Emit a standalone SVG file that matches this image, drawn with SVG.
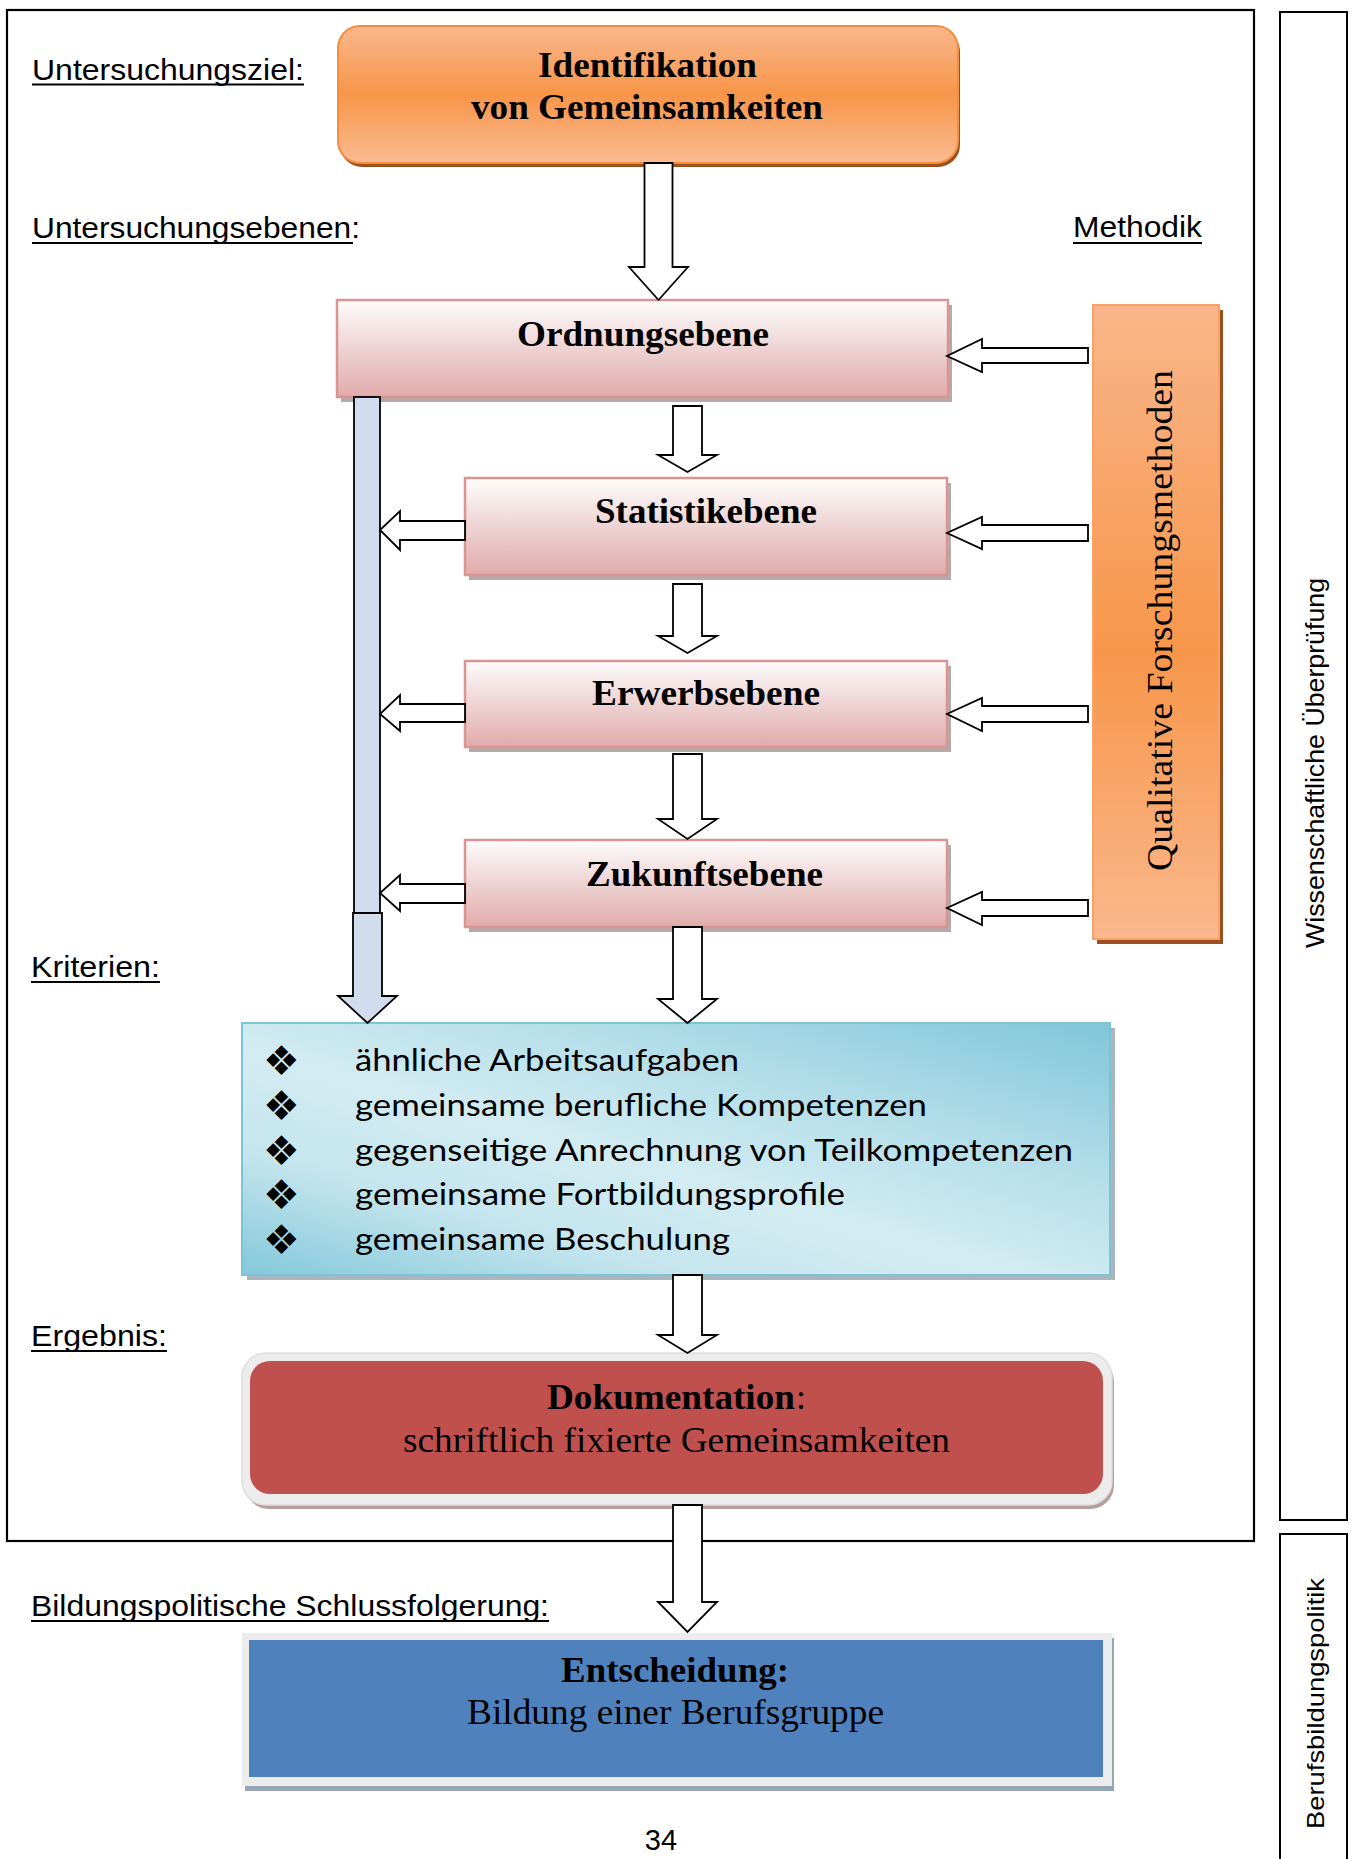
<svg xmlns="http://www.w3.org/2000/svg" width="1355" height="1859" viewBox="0 0 1355 1859">
<defs>
<linearGradient id="gOrange" x1="0" y1="0" x2="0" y2="1">
<stop offset="0" stop-color="#fab78c"/><stop offset="0.5" stop-color="#f79549"/><stop offset="1" stop-color="#fbbb92"/>
</linearGradient>
<linearGradient id="gQual" x1="0" y1="0" x2="0" y2="1">
<stop offset="0" stop-color="#f9b68a"/><stop offset="0.55" stop-color="#f7964a"/><stop offset="1" stop-color="#fab88d"/>
</linearGradient>
<linearGradient id="gPink" x1="0" y1="0" x2="0" y2="1">
<stop offset="0" stop-color="#fefcfc"/><stop offset="0.5" stop-color="#eed3d3"/><stop offset="1" stop-color="#e1abab"/>
</linearGradient>
<linearGradient id="gTeal" x1="1" y1="0" x2="0" y2="1">
<stop offset="0" stop-color="#80c6d9"/><stop offset="0.33" stop-color="#b6dfea"/><stop offset="0.55" stop-color="#d3ecf2"/><stop offset="0.75" stop-color="#c5e5ee"/><stop offset="1" stop-color="#83c8da"/>
</linearGradient>
<style>
.lbl{font-family:"Liberation Sans",Arial,sans-serif;font-size:29px;fill:#000}
.side{font-family:"Liberation Sans",Arial,sans-serif;fill:#000}
.sb{font-family:"Liberation Serif","Times New Roman",serif;font-weight:bold;font-size:35px;fill:#000}
.sr{font-family:"Liberation Serif","Times New Roman",serif;font-size:36px;fill:#000}
.crit{font-family:Lato,"Open Sans",sans-serif;font-size:31px;fill:#000}
.bul{font-family:"DejaVu Sans",sans-serif;font-size:41px;fill:#000}
.ul{stroke:#000;stroke-width:2.2}
.pink{fill:url(#gPink);stroke:#d99594;stroke-width:2.5}
.shadow{fill:#b6a9a9}
.arr{fill:#fff;stroke:#000;stroke-width:1.8;stroke-linejoin:miter}
.blue{fill:#d1ddec;stroke:#000;stroke-width:1.8}
</style>
</defs>
<rect width="1355" height="1859" fill="#fff"/>

<g id="frame">
<rect x="7" y="10" width="1247" height="1531" fill="none" stroke="#000" stroke-width="2.2"/>
</g>

<g id="sidebar-wissenschaft">
<rect x="1280" y="12" width="67" height="1508" fill="none" stroke="#000" stroke-width="2"/>
<text class="side" font-size="25" transform="translate(1324,763) rotate(-90)" x="-185" y="0" textLength="370" lengthAdjust="spacingAndGlyphs">Wissenschaftliche Überprüfung</text>
</g>
<g id="sidebar-politik">
<rect x="1280" y="1534" width="67" height="340" fill="none" stroke="#000" stroke-width="2"/>
<text class="side" font-size="24" transform="translate(1324,1704) rotate(-90)" x="-125" y="0" textLength="251" lengthAdjust="spacingAndGlyphs">Berufsbildungspolitik</text>
</g>

<g id="labels">
<text class="lbl" x="32" y="80" textLength="272" lengthAdjust="spacingAndGlyphs">Untersuchungsziel:</text>
<line class="ul" x1="32" y1="84.5" x2="304" y2="84.5"/>
<text class="lbl" x="32" y="238" textLength="328" lengthAdjust="spacingAndGlyphs">Untersuchungsebenen:</text>
<line class="ul" x1="32" y1="243" x2="353" y2="243"/>
<text class="lbl" x="1073" y="237" textLength="129" lengthAdjust="spacingAndGlyphs">Methodik</text>
<line class="ul" x1="1073" y1="243" x2="1202" y2="243"/>
<text class="lbl" x="31" y="977" textLength="129" lengthAdjust="spacingAndGlyphs">Kriterien:</text>
<line class="ul" x1="31" y1="982" x2="160" y2="982"/>
<text class="lbl" x="31" y="1346" textLength="136" lengthAdjust="spacingAndGlyphs">Ergebnis:</text>
<line class="ul" x1="31" y1="1351" x2="167" y2="1351"/>
<text class="lbl" x="31" y="1616" textLength="518" lengthAdjust="spacingAndGlyphs">Bildungspolitische Schlussfolgerung:</text>
<line class="ul" x1="31" y1="1621" x2="549" y2="1621"/>
<text class="lbl" x="661" y="1850" text-anchor="middle" font-size="29">34</text>
</g>

<g id="node-ziel">
<rect x="340" y="30" width="620" height="137" rx="22" fill="#9c4f1f"/>
<rect x="338" y="26" width="620" height="137" rx="22" fill="url(#gOrange)" stroke="#f58d3f" stroke-width="2"/>
<text class="sb" x="538" y="77" textLength="219" lengthAdjust="spacingAndGlyphs">Identifikation</text>
<text class="sb" x="471" y="119" textLength="352" lengthAdjust="spacingAndGlyphs">von Gemeinsamkeiten</text>
</g>

<g id="node-ordnung">
<rect class="shadow" x="341" y="305" width="611" height="97"/>
<rect class="pink" x="337" y="300" width="611" height="97"/>
<text class="sb" x="517" y="346" textLength="252" lengthAdjust="spacingAndGlyphs">Ordnungsebene</text>
</g>
<g id="node-statistik">
<rect class="shadow" x="469" y="483" width="482" height="97"/>
<rect class="pink" x="465" y="478" width="482" height="97"/>
<text class="sb" x="595" y="523" textLength="222" lengthAdjust="spacingAndGlyphs">Statistikebene</text>
</g>
<g id="node-erwerb">
<rect class="shadow" x="469" y="666" width="482" height="86"/>
<rect class="pink" x="465" y="661" width="482" height="86"/>
<text class="sb" x="592" y="705" textLength="228" lengthAdjust="spacingAndGlyphs">Erwerbsebene</text>
</g>
<g id="node-zukunft">
<rect class="shadow" x="469" y="845" width="482" height="87"/>
<rect class="pink" x="465" y="840" width="482" height="87"/>
<text class="sb" x="586" y="886" textLength="237" lengthAdjust="spacingAndGlyphs">Zukunftsebene</text>
</g>

<g id="node-methoden">
<rect x="1097" y="310" width="126" height="634" fill="#9c4f1f"/>
<rect x="1093" y="305" width="126" height="634" fill="url(#gQual)" stroke="#f7a266" stroke-width="2"/>
<text class="sr" transform="translate(1172,620.5) rotate(-90)" x="-250.5" y="0" textLength="501" lengthAdjust="spacingAndGlyphs">Qualitative Forschungsmethoden</text>
</g>

<g id="node-kriterien">
<rect x="247" y="1028" width="868" height="252" fill="#aab6bd"/>
<rect x="242" y="1023" width="868" height="252" fill="url(#gTeal)" stroke="#7dc3d6" stroke-width="2"/>
<text class="bul" x="263" y="1075">❖</text>
<text class="bul" x="263" y="1120">❖</text>
<text class="bul" x="263" y="1165">❖</text>
<text class="bul" x="263" y="1209">❖</text>
<text class="bul" x="263" y="1254">❖</text>
<text class="crit" x="355" y="1071" textLength="384" lengthAdjust="spacingAndGlyphs">ähnliche Arbeitsaufgaben</text>
<text class="crit" x="355" y="1116" textLength="572" lengthAdjust="spacingAndGlyphs">gemeinsame berufliche Kompetenzen</text>
<text class="crit" x="355" y="1161" textLength="718" lengthAdjust="spacingAndGlyphs">gegenseitige Anrechnung von Teilkompetenzen</text>
<text class="crit" x="355" y="1205" textLength="490" lengthAdjust="spacingAndGlyphs">gemeinsame Fortbildungsprofile</text>
<text class="crit" x="355" y="1250" textLength="375" lengthAdjust="spacingAndGlyphs">gemeinsame Beschulung</text>
</g>

<g id="node-dokumentation">
<rect x="245" y="1358" width="869" height="151" rx="24" fill="#b99c9c"/>
<rect x="242" y="1353" width="870" height="152" rx="24" fill="#ececec" stroke="#dedede" stroke-width="1.5"/>
<rect x="250" y="1361" width="853" height="133" rx="20" fill="#c0504d"/>
<text class="sb" x="547" y="1409" textLength="248" lengthAdjust="spacingAndGlyphs">Dokumentation</text>
<text class="sr" x="796" y="1409">:</text>
<text class="sr" x="403" y="1452" textLength="547" lengthAdjust="spacingAndGlyphs">schriftlich fixierte Gemeinsamkeiten</text>
</g>

<g id="node-entscheidung">
<rect x="245" y="1638" width="869" height="153" fill="#97a5b9"/>
<rect x="242" y="1633" width="870" height="153" fill="#ececec"/>
<rect x="249" y="1640" width="854" height="137" fill="#4f81bd"/>
<text class="sb" x="561" y="1682" textLength="228" lengthAdjust="spacingAndGlyphs">Entscheidung:</text>
<text class="sr" x="467" y="1724" textLength="417" lengthAdjust="spacingAndGlyphs">Bildung einer Berufsgruppe</text>
</g>

<g id="connectors">
<rect class="blue" x="354" y="397" width="26" height="516"/>
<polygon class="blue" points="353,913 382,913 382,996 397,996 367.5,1023 338,996 353,996"/>
<polygon class="arr" points="644.5,163 672.5,163 672.5,267 688,267 658.5,300 629,267 644.5,267"/>
<polygon class="arr" points="673,406 702,406 702,455 717,455 687.5,472 658,455 673,455"/>
<polygon class="arr" points="673,584 702,584 702,636 717,636 687.5,653 658,636 673,636"/>
<polygon class="arr" points="673,754 702,754 702,819 717,819 687.5,839 658,819 673,819"/>
<polygon class="arr" points="673,927 702,927 702,999 717,999 687.5,1023 658,999 673,999"/>
<polygon class="arr" points="673,1275 702,1275 702,1335 717,1335 687.5,1353 658,1335 673,1335"/>
<polygon class="arr" points="673,1505 702,1505 702,1602 717,1602 687.5,1632 658,1602 673,1602"/>
<polygon class="arr" points="465,521 400,521 400,511 380,530 400,550 400,540 465,540"/>
<polygon class="arr" points="465,704 400,704 400,695 380,714 400,731 400,722 465,722"/>
<polygon class="arr" points="465,884 400,884 400,875 380,893 400,911 400,903 465,903"/>
<polygon class="arr" points="1088,348 982,348 982,339 947,356 982,372 982,363 1088,363"/>
<polygon class="arr" points="1088,525 982,525 982,517 947,533 982,549 982,541 1088,541"/>
<polygon class="arr" points="1088,706 982,706 982,698 947,714 982,731 982,722 1088,722"/>
<polygon class="arr" points="1088,900 982,900 982,892 947,908 982,925 982,916 1088,916"/>
</g>
</svg>
